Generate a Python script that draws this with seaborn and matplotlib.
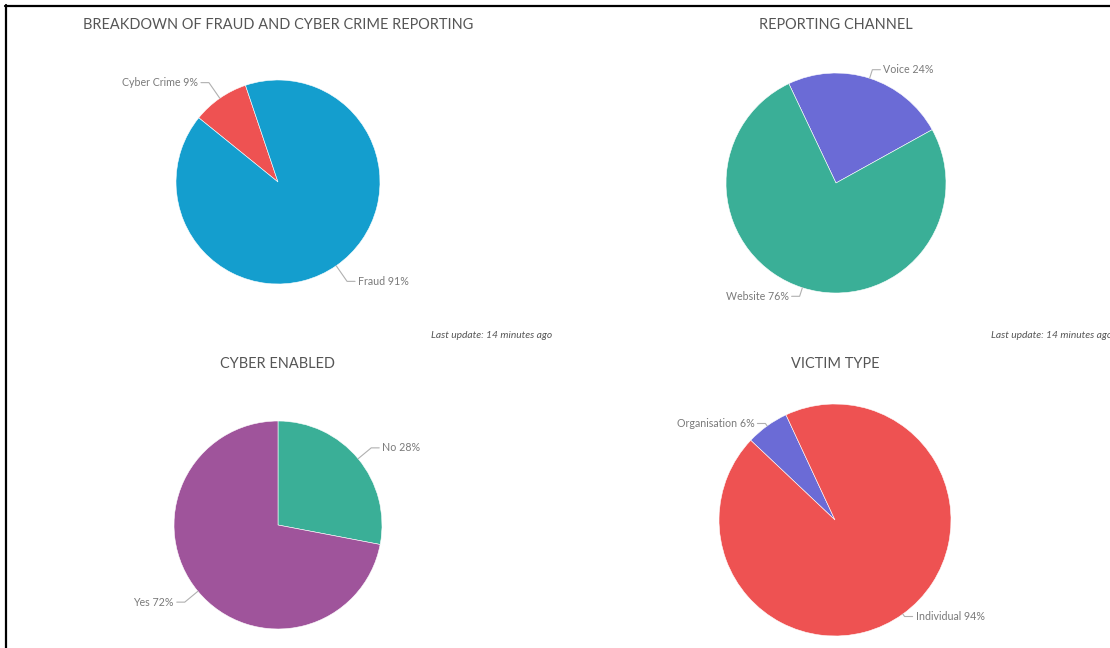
import numpy as np
import matplotlib
matplotlib.use("Agg")
import matplotlib.pyplot as plt
from matplotlib.lines import Line2D
import seaborn as sns

# ---- data -------------------------------------------------------------
fraud_labels = ["Cyber Crime", "Fraud"]
fraud_values = [9, 91]

channel_labels = ["Voice", "Website"]
channel_values = [24, 76]

cyber_labels = ["No", "Yes"]
cyber_values = [28, 72]

victim_labels = ["Organisation", "Individual"]
victim_values = [6, 94]

titles = [
    "BREAKDOWN OF FRAUD AND CYBER CRIME REPORTING",
    "REPORTING CHANNEL",
    "CYBER ENABLED",
    "VICTIM TYPE",
]
update_text = "Last update: 14 minutes ago"

# ---- style ------------------------------------------------------------
sns.set_theme(style="white")
plt.rcParams["font.family"] = ["Lato", "DejaVu Sans"]

BLUE, RED, TEAL, PURPLE, VIOLET = sns.color_palette(
    ["#149ECE", "#EE5252", "#3AAF97", "#6B6BD6", "#9F549B"])
TITLE_COLOR = "#555555"
LABEL_COLOR = "#7a7a7a"
CONNECTOR_COLOR = "#b0b0b0"

W, H = 1110, 648
fig = plt.figure(figsize=(W / 100, H / 100), dpi=100)
ax = fig.add_axes([0, 0, 1, 1])


def Y(py):
    """Convert a top-down pixel row into the axes' bottom-up coordinate."""
    return H - py


panels = [
    dict(labels=fraud_labels, values=fraud_values, colors=[RED, BLUE],
         center=(278, 182), radius=102, start=108.6, ccw=True,
         title=titles[0], title_y=25, label_gap=19),
    dict(labels=channel_labels, values=channel_values, colors=[PURPLE, TEAL],
         center=(836, 183), radius=110, start=29, ccw=True,
         title=titles[1], title_y=25, label_gap=9),
    dict(labels=cyber_labels, values=cyber_values, colors=[TEAL, VIOLET],
         center=(278, 525), radius=104, start=90, ccw=False,
         title=titles[2], title_y=364, label_gap=17),
    dict(labels=victim_labels, values=victim_values, colors=[PURPLE, RED],
         center=(835, 520), radius=116, start=115, ccw=True,
         title=titles[3], title_y=364, label_gap=3),
]

for p in panels:
    cx, cy = p["center"][0], Y(p["center"][1])
    r = p["radius"]
    wedges, _ = ax.pie(
        p["values"], colors=p["colors"], center=(cx, cy), radius=r,
        startangle=p["start"], counterclock=p["ccw"],
        wedgeprops=dict(edgecolor="white", linewidth=0.4),
    )
    total = sum(p["values"])
    for w, lab, val in zip(wedges, p["labels"], p["values"]):
        mid = np.deg2rad((w.theta1 + w.theta2) / 2)
        c, s = np.cos(mid), np.sin(mid)
        side = 1 if c >= 0 else -1
        ex, ey = cx + r * c, cy + r * s
        bx, by = cx + (r + p["label_gap"]) * c, cy + (r + p["label_gap"]) * s
        tx = bx + side * 8
        ax.plot([ex, bx, tx], [ey, by, by], color=CONNECTOR_COLOR, lw=0.8,
                solid_joinstyle="miter")
        pct = round(100 * val / total)
        ax.text(tx + side * 3, by, f"{lab} {pct}%", ha="left" if side > 0 else "right",
                va="center", fontsize=7.7, color=LABEL_COLOR)
    ax.text(p["center"][0], Y(p["title_y"]), p["title"], ha="center", va="center",
            fontsize=10.45, color=TITLE_COLOR)

# update stamps under the top row
for x_right in (552, 1112):
    ax.text(x_right, Y(335), update_text, ha="right", va="center",
            fontsize=7.4, style="italic", color="#555555")

ax.set_xlim(0, W)
ax.set_ylim(0, H)
ax.set_aspect("auto")
ax.axis("off")

# dashboard frame: top and left rules
fig.add_artist(Line2D([5 / W, 1], [1 - 6 / H, 1 - 6 / H], color="black", lw=1.6,
                      transform=fig.transFigure))
fig.add_artist(Line2D([6 / W, 6 / W], [0, 1 - 5 / H], color="black", lw=1.6,
                      transform=fig.transFigure))

fig.savefig("out.png", dpi=100, facecolor="white")
